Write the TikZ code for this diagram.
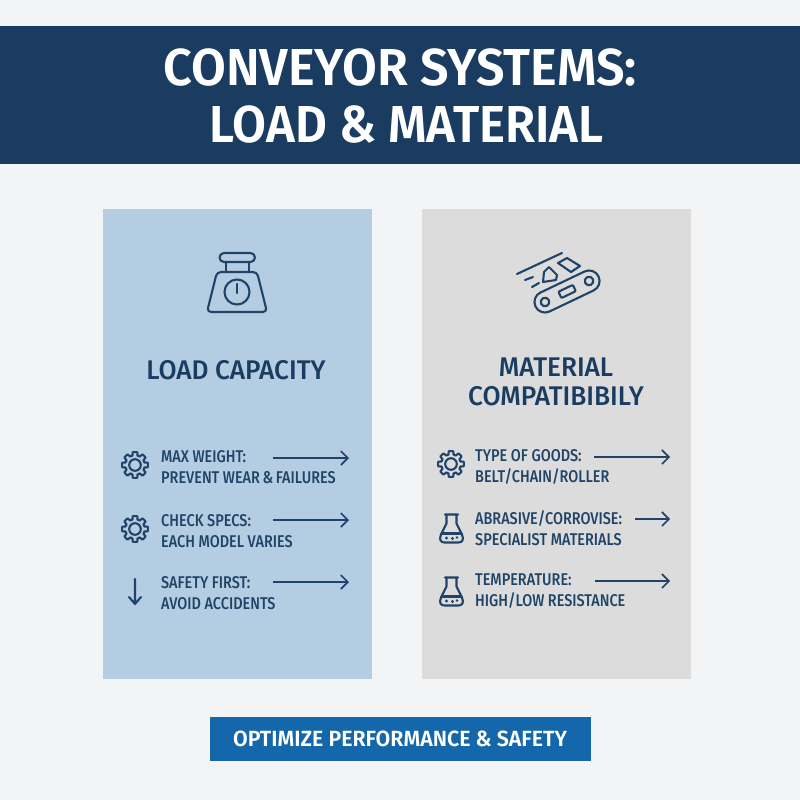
\documentclass[tikz,border=0pt]{standalone}
\usepackage{fontspec}
\usepackage{graphicx}
\setmainfont{Fira Sans}
\newfontfamily\med{Fira Sans Medium}
\newfontfamily\semi{Fira Sans SemiBold}
\usetikzlibrary{arrows.meta}
\definecolor{navy}{HTML}{1A3C61}
\definecolor{ink}{HTML}{1F4468}
\definecolor{pagebg}{HTML}{F3F4F6}
\definecolor{leftp}{HTML}{B5CDE3}
\definecolor{rightp}{HTML}{DCDCDC}
\definecolor{btn}{HTML}{1467AB}
\tikzset{
 x=1pt,y=-1pt,
 icon/.style={draw=ink,line width=2.1pt,line join=round,line cap=round,fill=none},
 flow/.style={draw=ink,line width=1.6pt,-{Straight Barb[length=7pt,width=14pt,line width=1.6pt]}},
 item/.style={anchor=west,inner sep=0pt,text=ink,font=\fontsize{17}{21}\selectfont\med,align=left,xscale=.85},
 head/.style={anchor=center,inner sep=0pt,text=navy,font=\fontsize{27}{29}\selectfont\med,align=center,xscale=.97},
 gear/.pic={
  \draw[icon] plot[smooth cycle,tension=.2] coordinates {
   (0-15:9.8) (0-10:13) (0+10:13) (0+15:9.8)
   (45-15:9.8) (45-10:13) (45+10:13) (45+15:9.8)
   (90-15:9.8) (90-10:13) (90+10:13) (90+15:9.8)
   (135-15:9.8) (135-10:13) (135+10:13) (135+15:9.8)
   (180-15:9.8) (180-10:13) (180+10:13) (180+15:9.8)
   (225-15:9.8) (225-10:13) (225+10:13) (225+15:9.8)
   (270-15:9.8) (270-10:13) (270+10:13) (270+15:9.8)
   (315-15:9.8) (315-10:13) (315+10:13) (315+15:9.8)};
  \draw[icon] (0,0) circle (5.8);
 },
 flask/.pic={
  \draw[icon] (-6.5,-14) -- (6.5,-14) (-5,-14) -- (-5,-5) -- (-10.5,6) .. controls (-13,12) and (-10,14) .. (-7,14) -- (7,14) .. controls (10,14) and (13,12) .. (10.5,6) -- (5,-5) -- (5,-14);
  \draw[icon] (-10,5) -- (10,5);
  \fill[ink] (-5,9.5) circle (1.7) (1,10) circle (1.6) (5.5,9) circle (1.4);
 }
}
\begin{document}
\begin{tikzpicture}
\useasboundingbox (0,0) rectangle (800,800);
\fill[pagebg] (0,0) rectangle (800,800);
\fill[navy] (0,26) rectangle (800,164);
\node[anchor=center,inner sep=0pt,text=white,font=\fontsize{52}{57}\selectfont\semi,align=center,xscale=.97] (title) at (400,96) {CONVEYOR SYSTEMS:\\\hspace{14pt}\scalebox{.975}[1]{LOAD \& MATERIAL}};
\fill[leftp] (103,209) rectangle (372,679);
\fill[rightp] (422,209) rectangle (691,679);

% scale icon
\draw[icon,rounded corners=4.5pt] (219.5,253) rectangle (255,262);
\draw[icon] (226,262) -- (226,272) (249,262) -- (249,272);
\draw[icon,rounded corners=4pt] (217,272) -- (257,272) -- (267,312) -- (207,312) -- cycle;
\draw[icon] (237,292) circle (12.5);
\draw[icon] (237,284) -- (237,293);

% conveyor icon
\draw[icon] (517,274) -- (562,253);
\draw[icon] (525,280) -- (533,277) (532,287) -- (539,283);
\draw[icon] (549,267) -- (544,272) -- (543,282) -- (556,280) -- (557,275) -- cycle;
\draw[icon] (558,263) -- (567,258) -- (580,266) -- (571,272) -- cycle;
\begin{scope}[shift={(545,302)},rotate=25.5]
\draw[icon,rounded corners=10.4pt] (-10.5,-10.5) rectangle (59.3,10.5);
\draw[icon] (0,0) circle (4.3) (48.8,0) circle (4.3);
\draw[icon,rounded corners=1pt] (16.5,-3.5) rectangle (32.5,3.5);
\end{scope}

\node[head] (h1) at (236,370) {LOAD CAPACITY};
\node[head] (h2) at (556,382) {MATERIAL\\COMPATIBIBILY};

% left items
\pic at (135,465) {gear};
\pic at (135,529) {gear};
\draw[icon] (135,579) -- (135,604) (129,597) -- (135,604) -- (141,597);
\node[item] (l1) at (161,467) {MAX WEIGHT:\\PREVENT WEAR\hspace{3pt}\&\hspace{3pt}FAILURES};
\node[item] (l2) at (161,531) {CHECK SPECS:\\EACH MODEL VARIES};
\node[item] (l3) at (161,593) {SAFETY FIRST:\\AVOID ACCIDENTS};
\coordinate (la1) at (273,458); \coordinate (lb1) at (349,458);
\coordinate (la2) at (273,520); \coordinate (lb2) at (349,520);
\coordinate (la3) at (273,582); \coordinate (lb3) at (349,582);
\draw[flow] (la1) -- (lb1);
\draw[flow] (la2) -- (lb2);
\draw[flow] (la3) -- (lb3);

% right items
\pic at (451,464) {gear};
\pic at (451.5,528.5) {flask};
\pic at (451.5,591.5) {flask};
\node[item] (r1) at (475,467) {TYPE OF GOODS:\\BELT/CHAIN/ROLLER};
\node[item] (r2) at (475,528) {ABRASIVE/CORROVISE:\\SPECIALIST MATERIALS};
\node[item] (r3) at (475,591) {TEMPERATURE:\\HIGH/LOW RESISTANCE};
\coordinate (ra1) at (594,457); \coordinate (rb1) at (670,457);
\coordinate (ra2) at (635,519); \coordinate (rb2) at (670,519);
\coordinate (ra3) at (595,581); \coordinate (rb3) at (670,581);
\draw[flow] (ra1) -- (rb1);
\draw[flow] (ra2) -- (rb2);
\draw[flow] (ra3) -- (rb3);

\node[fill=btn,minimum width=381pt,minimum height=44pt,inner sep=0pt] (cta) at (400,738.5) {};
\node[text=white,inner sep=0pt,xscale=.97,font=\fontsize{22}{26}\selectfont\semi] (ctat) at (cta) {OPTIMIZE PERFORMANCE \& SAFETY};
\end{tikzpicture}
\end{document}
